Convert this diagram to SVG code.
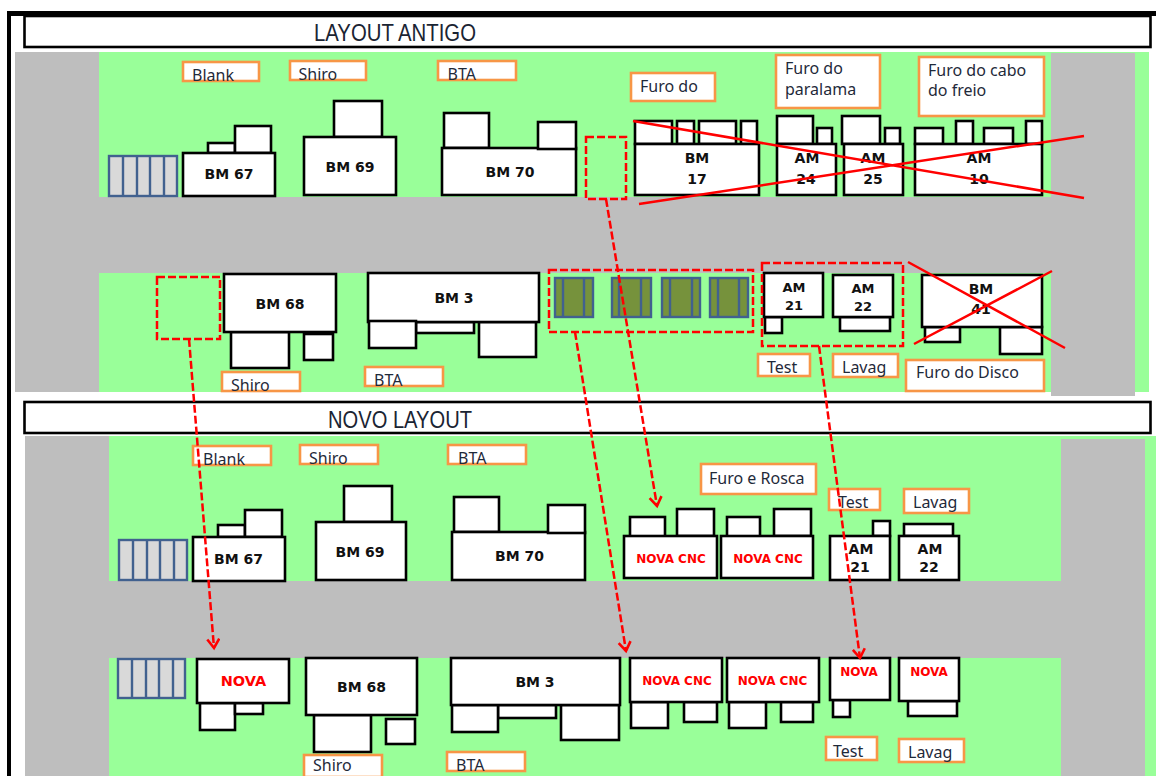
<svg xmlns="http://www.w3.org/2000/svg" width="1156" height="776" viewBox="0 0 1156 776">
<style>
.bg{fill:#fff}.g{fill:#99ff99}.r{fill:#bebebe}
.b{fill:#fff;stroke:#000;stroke-width:2.6}
.o{fill:#fff;stroke:#f79646;stroke-width:2.6}
.t{fill:#fff;stroke:#000;stroke-width:2.6}
.rack{fill:#d9d9d9;stroke:#41618f;stroke-width:2.4}
.ol{fill:#76923c;stroke:#41618f;stroke-width:2.4}
.dv{stroke:#41618f;stroke-width:2.4;fill:none}
.ds{fill:none;stroke:#f00;stroke-width:2.5;stroke-dasharray:8 3}
.x{stroke:#f00;stroke-width:2.5;fill:none}
.c{fill:none;stroke:#f00;stroke-width:2.5;stroke-dasharray:8 3;marker-end:url(#ah)}
text{font-family:"Noto Sans","DejaVu Sans",sans-serif}
.l{font-size:16px;fill:#1f2a3a}
.m{font-family:"DejaVu Sans",sans-serif;font-size:14px;font-weight:700;fill:#111;text-anchor:middle}
.n{font-family:"DejaVu Sans",sans-serif;font-size:12px;font-weight:700;fill:#f00;text-anchor:middle}
.h{font-family:"Liberation Sans",sans-serif;font-size:24px;fill:#1a2433}
</style>
<defs>
<marker id="ah" markerUnits="userSpaceOnUse" markerWidth="16" markerHeight="16" refX="11" refY="7" orient="auto">
<path d="M2 1L11 7L2 13" fill="none" stroke="#f00" stroke-width="2.6"/>
</marker>
</defs>
<rect class="bg" width="1156" height="776"/>
<rect x="7" y="11" width="4" height="765" fill="#000"/>
<rect x="7" y="11" width="1149" height="5" fill="#000"/>

<g id="floor-antigo">
<rect class="g" x="98" y="52" width="1051" height="340"/>
<rect class="r" x="15" y="52" width="84" height="340"/>
<rect class="r" x="15" y="197" width="1036" height="76"/>
<rect class="r" x="1051" y="53" width="84" height="343"/>
</g>
<g id="floor-novo">
<rect class="g" x="108" y="436" width="1048" height="340"/>
<rect class="r" x="25" y="436" width="84" height="340"/>
<rect class="r" x="25" y="581" width="1036" height="77"/>
<rect class="r" x="1061" y="439" width="84" height="337"/>
</g>

<g id="title-antigo"><rect class="t" x="24.500" y="16" width="1126" height="31"/><text class="h" x="314" y="41" textLength="162" lengthAdjust="spacingAndGlyphs">LAYOUT ANTIGO</text></g>
<g id="title-novo"><rect class="t" x="24.500" y="402" width="1126" height="31"/><text class="h" x="328" y="428" textLength="144" lengthAdjust="spacingAndGlyphs">NOVO LAYOUT</text></g>

<g id="a-blank"><rect class="o" x="183" y="62" width="76" height="19"/><text class="l" x="192" y="81">Blank</text></g>
<g id="a-shiro"><rect class="o" x="290" y="61" width="76" height="19"/><text class="l" x="298.500" y="80">Shiro</text></g>
<g id="a-bta"><rect class="o" x="438" y="61" width="78" height="19"/><text class="l" x="447.500" y="80">BTA</text></g>
<g id="a-furo"><rect class="o" x="631" y="73" width="84" height="28"/><text class="l" x="640" y="92">Furo do</text></g>
<g id="a-paralama"><rect class="o" x="776" y="55" width="104" height="53"/><text class="l" x="785" y="74">Furo do</text><text class="l" x="785" y="95">paralama</text></g>
<g id="a-cabo"><rect class="o" x="919" y="57" width="125" height="59"/><text class="l" x="928" y="76">Furo do cabo</text><text class="l" x="928" y="96">do freio</text></g>

<g id="a-rack1"><rect class="rack" x="109" y="156" width="68" height="40"/><path class="dv" d="M123 156V196M137 156V196M150 156V196M164 156V196"/></g>
<g id="a-bm67"><rect class="b" x="208" y="143" width="27" height="10"/><rect class="b" x="235" y="126" width="36" height="27"/><rect class="b" x="183" y="153" width="92" height="43"/><text class="m" x="229" y="179">BM 67</text></g>
<g id="a-bm69"><rect class="b" x="334" y="101" width="48" height="36"/><rect class="b" x="304" y="137" width="92" height="58"/><text class="m" x="350" y="172">BM 69</text></g>
<g id="a-bm70"><rect class="b" x="444" y="113" width="45" height="35"/><rect class="b" x="442" y="148" width="134" height="47"/><rect class="b" x="538" y="122" width="38" height="27"/><text class="m" x="510" y="177">BM 70</text></g>
<g id="a-bm17"><rect class="b" x="635" y="121" width="37" height="23"/><rect class="b" x="677" y="121" width="17" height="23"/><rect class="b" x="699" y="121" width="37" height="23"/><rect class="b" x="741" y="121" width="16" height="23"/><rect class="b" x="635" y="144" width="124" height="51"/><text class="m" x="697" y="163">BM</text><text class="m" x="697" y="184">17</text></g>
<g id="a-am24"><rect class="b" x="777" y="116" width="36" height="28"/><rect class="b" x="817" y="128" width="15" height="16"/><rect class="b" x="777" y="144" width="59" height="51"/><text class="m" x="807" y="163">AM</text><text class="m" x="806" y="184">24</text></g>
<g id="a-am25"><rect class="b" x="842" y="116" width="38" height="28"/><rect class="b" x="885" y="128" width="15" height="16"/><rect class="b" x="844" y="144" width="59" height="51"/><text class="m" x="873" y="163">AM</text><text class="m" x="873" y="184">25</text></g>
<g id="a-am10"><rect class="b" x="915" y="128" width="28" height="16"/><rect class="b" x="956" y="121" width="17" height="23"/><rect class="b" x="984" y="128" width="29" height="16"/><rect class="b" x="1026" y="121" width="16" height="23"/><rect class="b" x="915" y="144" width="127" height="51"/><text class="m" x="979" y="163">AM</text><text class="m" x="979" y="184">10</text></g>

<g id="a-slot1"><rect class="ds" x="157" y="277" width="63" height="62"/></g>
<g id="a-slot2"><rect class="ds" x="586" y="137" width="40" height="62"/></g>
<g id="a-bm68"><rect class="b" x="231" y="332" width="58" height="36"/><rect class="b" x="304" y="334" width="29" height="26"/><rect class="b" x="224" y="274" width="112" height="58"/><text class="m" x="280" y="309">BM 68</text></g>
<g id="a-bm3"><rect class="b" x="416" y="322" width="58" height="11"/><rect class="b" x="479" y="322" width="57" height="35"/><rect class="b" x="368" y="273" width="171" height="49"/><rect class="b" x="369" y="321" width="47" height="27"/><text class="m" x="454" y="303">BM 3</text></g>
<g id="a-shiro2"><rect class="o" x="222" y="372" width="78" height="19"/><text class="l" x="231" y="391">Shiro</text></g>
<g id="a-bta2"><rect class="o" x="365" y="367" width="78" height="19"/><text class="l" x="374" y="386">BTA</text></g>

<g id="a-units">
<rect class="ol" x="555" y="278" width="38" height="39"/><path class="dv" d="M563 278V317M584 278V317"/>
<rect class="ol" x="612" y="278" width="39" height="39"/><path class="dv" d="M619 278V317M641 278V317"/>
<rect class="ol" x="662" y="278" width="38" height="39"/><path class="dv" d="M670 278V317M692 278V317"/>
<rect class="ol" x="710" y="278" width="38" height="39"/><path class="dv" d="M718 278V317M739 278V317"/>
<rect class="ds" x="549" y="270" width="204" height="62"/>
</g>
<g id="a-am21"><rect class="b" x="765" y="317" width="17" height="16"/><rect class="b" x="764" y="273" width="59" height="44"/><text class="m" x="794" y="292" style="font-size:13px">AM</text><text class="m" x="794" y="310" style="font-size:13px">21</text></g>
<g id="a-am22"><rect class="b" x="840" y="317" width="50" height="14"/><rect class="b" x="833" y="275" width="60" height="42"/><text class="m" x="863" y="293" style="font-size:13px">AM</text><text class="m" x="863" y="311" style="font-size:13px">22</text></g>
<g id="a-group"><rect class="ds" x="762" y="263" width="141" height="83"/></g>
<g id="a-bm41"><rect class="b" x="925" y="327" width="35" height="15"/><rect class="b" x="1000" y="327" width="42" height="27"/><rect class="b" x="922" y="275" width="120" height="52"/><text class="m" x="981" y="294">BM</text><text class="m" x="981" y="314">41</text></g>
<g id="a-test"><rect class="o" x="758" y="354" width="52" height="22"/><text class="l" x="767" y="373">Test</text></g>
<g id="a-lavag"><rect class="o" x="833" y="354" width="65" height="23"/><text class="l" x="842" y="373">Lavag</text></g>
<g id="a-disco"><rect class="o" x="906" y="360" width="138" height="31"/><text class="l" x="916" y="378">Furo do Disco</text></g>

<g id="n-blank"><rect class="o" x="193" y="446" width="78" height="19"/><text class="l" x="203" y="465">Blank</text></g>
<g id="n-shiro"><rect class="o" x="300" y="445" width="78" height="19"/><text class="l" x="309" y="464">Shiro</text></g>
<g id="n-bta"><rect class="o" x="448" y="445" width="78" height="19"/><text class="l" x="458" y="464">BTA</text></g>
<g id="n-rosca"><rect class="o" x="701" y="464" width="115" height="30"/><text class="l" x="709" y="484">Furo e Rosca</text></g>
<g id="n-test"><rect class="o" x="829" y="489" width="51" height="21"/><text class="l" x="838" y="508">Test</text></g>
<g id="n-lavag"><rect class="o" x="904" y="489" width="65" height="24"/><text class="l" x="913" y="508">Lavag</text></g>

<g id="n-rack1"><rect class="rack" x="119" y="540" width="68" height="40"/><path class="dv" d="M133 540V580M147 540V580M160 540V580M174 540V580"/></g>
<g id="n-bm67"><rect class="b" x="218" y="525" width="27" height="12"/><rect class="b" x="245" y="510" width="37" height="27"/><rect class="b" x="193" y="537" width="92" height="44"/><text class="m" x="238.500" y="564">BM 67</text></g>
<g id="n-bm69"><rect class="b" x="344" y="486" width="48" height="36"/><rect class="b" x="316" y="522" width="90" height="58"/><text class="m" x="360" y="557">BM 69</text></g>
<g id="n-bm70"><rect class="b" x="454" y="497" width="45" height="35"/><rect class="b" x="452" y="532" width="133" height="48"/><rect class="b" x="548" y="505" width="37" height="28"/><text class="m" x="519.500" y="561">BM 70</text></g>
<g id="n-cnc1"><rect class="b" x="630" y="517" width="35" height="20"/><rect class="b" x="677" y="509" width="37" height="27"/><rect class="b" x="624" y="536" width="93" height="42"/><text class="n" x="671" y="563">NOVA CNC</text></g>
<g id="n-cnc2"><rect class="b" x="727" y="517" width="33" height="20"/><rect class="b" x="774" y="509" width="37" height="27"/><rect class="b" x="721" y="536" width="92" height="42"/><text class="n" x="768" y="563">NOVA CNC</text></g>
<g id="n-am21"><rect class="b" x="873" y="521" width="17" height="15"/><rect class="b" x="830" y="536" width="60" height="44"/><text class="m" x="861" y="554">AM</text><text class="m" x="860" y="572">21</text></g>
<g id="n-am22"><rect class="b" x="904" y="524" width="49" height="12"/><rect class="b" x="899" y="536" width="60" height="44"/><text class="m" x="930" y="554">AM</text><text class="m" x="929" y="572">22</text></g>

<g id="n-rack2"><rect class="rack" x="118" y="659" width="67" height="39"/><path class="dv" d="M132 659V698M146 659V698M159 659V698M173 659V698"/></g>
<g id="n-nova1"><rect class="b" x="200" y="703" width="35" height="27"/><rect class="b" x="235" y="703" width="28" height="11"/><rect class="b" x="197" y="659" width="92" height="44"/><text class="n" x="243.500" y="686" style="font-size:14.500px">NOVA</text></g>
<g id="n-bm68"><rect class="b" x="314" y="715" width="57" height="37"/><rect class="b" x="386" y="719" width="29" height="25"/><rect class="b" x="306" y="658" width="111" height="57"/><text class="m" x="361.500" y="692">BM 68</text></g>
<g id="n-bm3"><rect class="b" x="498" y="705" width="58" height="13"/><rect class="b" x="561" y="705" width="58" height="35"/><rect class="b" x="452" y="705" width="46" height="27"/><rect class="b" x="451" y="658" width="169" height="47"/><text class="m" x="535" y="687">BM 3</text></g>
<g id="n-cnc3"><rect class="b" x="631" y="702" width="37" height="26"/><rect class="b" x="684" y="702" width="33" height="20"/><rect class="b" x="630" y="658" width="92" height="44"/><text class="n" x="677" y="685">NOVA CNC</text></g>
<g id="n-cnc4"><rect class="b" x="729" y="702" width="37" height="26"/><rect class="b" x="781" y="702" width="32" height="20"/><rect class="b" x="727" y="658" width="92" height="44"/><text class="n" x="772.500" y="685">NOVA CNC</text></g>
<g id="n-nova2"><rect class="b" x="833" y="700" width="17" height="17"/><rect class="b" x="830" y="658" width="60" height="42"/><text class="n" x="859" y="676">NOVA</text></g>
<g id="n-nova3"><rect class="b" x="908" y="701" width="49" height="15"/><rect class="b" x="899" y="658" width="60" height="43"/><text class="n" x="929" y="676">NOVA</text></g>
<g id="n-shiro2"><rect class="o" x="304" y="755" width="78" height="22"/><text class="l" x="313" y="771">Shiro</text></g>
<g id="n-bta2"><rect class="o" x="447" y="752" width="78" height="19"/><text class="l" x="456" y="771">BTA</text></g>
<g id="n-test2"><rect class="o" x="826" y="737" width="51" height="23"/><text class="l" x="833" y="757">Test</text></g>
<g id="n-lavag2"><rect class="o" x="899" y="739" width="65" height="23"/><text class="l" x="908" y="758">Lavag</text></g>

<g id="crosses">
<path class="x" d="M633 121L1084 198M639 204L1084 136M908 262L1065 348M1052 271L914 344"/>
</g>
<g id="connectors">
<path class="c" d="M606 199L657 506"/>
<path class="c" d="M575 332L626 651"/>
<path class="c" d="M189 339L214 648"/>
<path class="c" d="M819 346L860 658"/>
</g>
</svg>
